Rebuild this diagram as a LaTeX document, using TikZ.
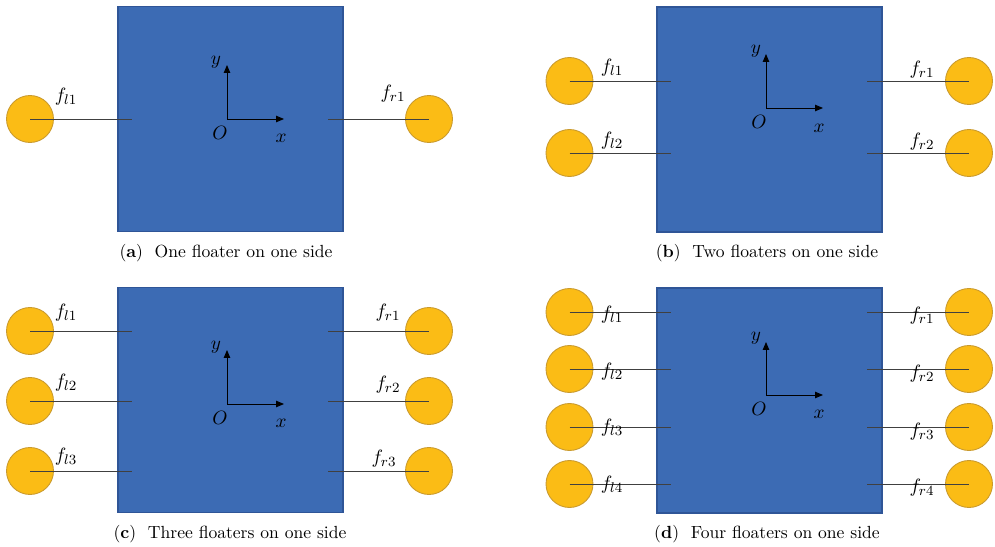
\documentclass[tikz,border=0pt]{standalone}
\usepackage{amsmath}
\usepackage{xcolor}
\usepackage{tikz}
\usetikzlibrary{arrows.meta}
\definecolor{hullblue}{HTML}{3C6BB4}
\definecolor{hulledge}{HTML}{2F5597}
\definecolor{floatfill}{HTML}{FBBC15}
\definecolor{floatedge}{HTML}{C99A2E}

\begin{document}
\begin{tikzpicture}[x=0.02cm, y=-0.02cm,
  hull/.style={draw=hulledge, fill=hullblue, line width=0.6pt, minimum width=4.5cm, minimum height=4.5cm, inner sep=0pt},
  buoy/.style={circle, draw=floatedge, fill=floatfill, line width=0.5pt, minimum size=0.94cm, inner sep=0pt},
  tie/.style={draw=black!75, line width=0.5pt},
  axis/.style={-{Triangle[length=1.6mm, width=1.3mm]}, black, line width=0.5pt},
  flab/.style={font=\fontsize{11}{13}\selectfont, inner sep=0pt},
  subcap/.style={font=\fontsize{10}{12}\selectfont}
]
  \useasboundingbox (0,0) rectangle (995,547);

  % (a) one floater
  \node[hull] (a-hull) at (230.5,119) {};
  \node[buoy] (a-l1) at (30,119) {};
  \node[buoy] (a-r1) at (429,119) {};
  \coordinate (a-l1e) at (132,119);
  \coordinate (a-r1e) at (328,119);
  \draw[tie] (a-l1.center) -- (a-l1e);
  \draw[tie] (a-r1e) -- (a-r1.center);
  \node[flab] (a-fl1) at (66,97) {$f_{l1}$};
  \node[flab] (a-fr1) at (393,94) {$f_{r1}$};
  \coordinate (a-O) at (227,119);
  \coordinate (a-X) at (284,119);
  \coordinate (a-Y) at (227,65);
  \draw[axis] (a-O) -- (a-X);
  \draw[axis] (a-O) -- (a-Y);
  \node[flab] (a-olab) at (220,133) {$O$};
  \node[flab] (a-xlab) at (281,138) {$x$};
  \node[flab] (a-ylab) at (216,62) {$y$};
  \node[subcap] (a-cap) at (226,253) {(\textbf{a})\ \ One floater on one side};

  % (b) two floaters
  \node[hull] (b-hull) at (769.5,119.5) {};
  \node[buoy] (b-l1) at (569.5,81) {};
  \node[buoy] (b-l2) at (569.5,153) {};
  \node[buoy] (b-r1) at (969,81) {};
  \node[buoy] (b-r2) at (969,153) {};
  \coordinate (b-l1e) at (671,81);
  \coordinate (b-l2e) at (671,153);
  \coordinate (b-r1e) at (867,81);
  \coordinate (b-r2e) at (867,153);
  \draw[tie] (b-l1.center) -- (b-l1e);
  \draw[tie] (b-l2.center) -- (b-l2e);
  \draw[tie] (b-r1e) -- (b-r1.center);
  \draw[tie] (b-r2e) -- (b-r2.center);
  \node[flab] (b-fl1) at (612,68) {$f_{l1}$};
  \node[flab] (b-fl2) at (612,141) {$f_{l2}$};
  \node[flab] (b-fr1) at (922,70) {$f_{r1}$};
  \node[flab] (b-fr2) at (922,142) {$f_{r2}$};
  \coordinate (b-O) at (766,108);
  \coordinate (b-X) at (823,108);
  \coordinate (b-Y) at (766,54);
  \draw[axis] (b-O) -- (b-X);
  \draw[axis] (b-O) -- (b-Y);
  \node[flab] (b-olab) at (759,122) {$O$};
  \node[flab] (b-xlab) at (819,128) {$x$};
  \node[flab] (b-ylab) at (756,51) {$y$};
  \node[subcap] (b-cap) at (767,253) {(\textbf{b})\ \ Two floaters on one side};

  % (c) three floaters
  \node[hull] (c-hull) at (230.5,400) {};
  \node[buoy] (c-l1) at (30,331) {};
  \node[buoy] (c-l2) at (30,401) {};
  \node[buoy] (c-l3) at (30,471) {};
  \node[buoy] (c-r1) at (429,331) {};
  \node[buoy] (c-r2) at (429,401) {};
  \node[buoy] (c-r3) at (429,471) {};
  \coordinate (c-l1e) at (132,331);
  \coordinate (c-l2e) at (132,401);
  \coordinate (c-l3e) at (132,471);
  \coordinate (c-r1e) at (328,331);
  \coordinate (c-r2e) at (328,401);
  \coordinate (c-r3e) at (328,471);
  \draw[tie] (c-l1.center) -- (c-l1e);
  \draw[tie] (c-l2.center) -- (c-l2e);
  \draw[tie] (c-l3.center) -- (c-l3e);
  \draw[tie] (c-r1e) -- (c-r1.center);
  \draw[tie] (c-r2e) -- (c-r2.center);
  \draw[tie] (c-r3e) -- (c-r3.center);
  \node[flab] (c-fl1) at (66,313) {$f_{l1}$};
  \node[flab] (c-fl2) at (66,383) {$f_{l2}$};
  \node[flab] (c-fl3) at (66,457) {$f_{l3}$};
  \node[flab] (c-fr1) at (388,313) {$f_{r1}$};
  \node[flab] (c-fr2) at (388,385) {$f_{r2}$};
  \node[flab] (c-fr3) at (384,459) {$f_{r3}$};
  \coordinate (c-O) at (227,404);
  \coordinate (c-X) at (284,404);
  \coordinate (c-Y) at (227,350);
  \draw[axis] (c-O) -- (c-X);
  \draw[axis] (c-O) -- (c-Y);
  \node[flab] (c-olab) at (220,418) {$O$};
  \node[flab] (c-xlab) at (281,423) {$x$};
  \node[flab] (c-ylab) at (216,347) {$y$};
  \node[subcap] (c-cap) at (230,534) {(\textbf{c})\ \ Three floaters on one side};

  % (d) four floaters
  \node[hull] (d-hull) at (769.5,400.5) {};
  \node[buoy] (d-l1) at (569.5,312) {};
  \node[buoy] (d-l2) at (569.5,369) {};
  \node[buoy] (d-l3) at (569.5,427) {};
  \node[buoy] (d-l4) at (569.5,484) {};
  \node[buoy] (d-r1) at (969,312) {};
  \node[buoy] (d-r2) at (969,369) {};
  \node[buoy] (d-r3) at (969,427) {};
  \node[buoy] (d-r4) at (969,484) {};
  \coordinate (d-l1e) at (671,312);
  \coordinate (d-l2e) at (671,369);
  \coordinate (d-l3e) at (671,427);
  \coordinate (d-l4e) at (671,484);
  \coordinate (d-r1e) at (867,312);
  \coordinate (d-r2e) at (867,369);
  \coordinate (d-r3e) at (867,427);
  \coordinate (d-r4e) at (867,484);
  \draw[tie] (d-l1.center) -- (d-l1e);
  \draw[tie] (d-l2.center) -- (d-l2e);
  \draw[tie] (d-l3.center) -- (d-l3e);
  \draw[tie] (d-l4.center) -- (d-l4e);
  \draw[tie] (d-r1e) -- (d-r1.center);
  \draw[tie] (d-r2e) -- (d-r2.center);
  \draw[tie] (d-r3e) -- (d-r3.center);
  \draw[tie] (d-r4e) -- (d-r4.center);
  \node[flab] (d-fl1) at (612,315) {$f_{l1}$};
  \node[flab] (d-fl2) at (612,372) {$f_{l2}$};
  \node[flab] (d-fl3) at (612,428) {$f_{l3}$};
  \node[flab] (d-fl4) at (612,485) {$f_{l4}$};
  \node[flab] (d-fr1) at (922,316) {$f_{r1}$};
  \node[flab] (d-fr2) at (922,374) {$f_{r2}$};
  \node[flab] (d-fr3) at (922,432) {$f_{r3}$};
  \node[flab] (d-fr4) at (922,488) {$f_{r4}$};
  \coordinate (d-O) at (766,395);
  \coordinate (d-X) at (823,395);
  \coordinate (d-Y) at (766,342);
  \draw[axis] (d-O) -- (d-X);
  \draw[axis] (d-O) -- (d-Y);
  \node[flab] (d-olab) at (759,409) {$O$};
  \node[flab] (d-xlab) at (819,414) {$x$};
  \node[flab] (d-ylab) at (756,338) {$y$};
  \node[subcap] (d-cap) at (767,534) {(\textbf{d})\ \ Four floaters on one side};
\end{tikzpicture}
\end{document}
